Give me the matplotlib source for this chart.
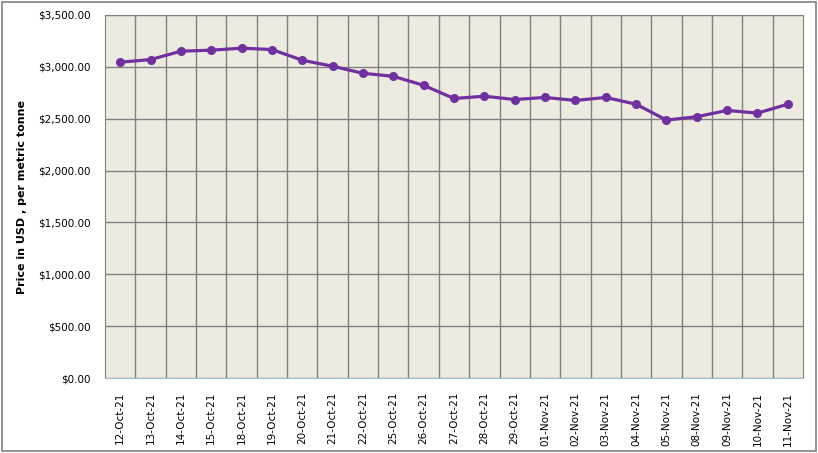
import matplotlib
matplotlib.use("Agg")
import matplotlib.pyplot as plt
from matplotlib.ticker import FuncFormatter
from matplotlib.patches import Rectangle

dates = ["12-Oct-21", "13-Oct-21", "14-Oct-21", "15-Oct-21", "18-Oct-21",
         "19-Oct-21", "20-Oct-21", "21-Oct-21", "22-Oct-21", "25-Oct-21",
         "26-Oct-21", "27-Oct-21", "28-Oct-21", "29-Oct-21", "01-Nov-21",
         "02-Nov-21", "03-Nov-21", "04-Nov-21", "05-Nov-21", "08-Nov-21",
         "09-Nov-21", "10-Nov-21", "11-Nov-21"]
prices = [3045, 3070, 3151, 3161, 3180, 3167, 3064, 3006, 2938, 2909,
          2822, 2695, 2717, 2685, 2705, 2676, 2705, 2640, 2487, 2519,
          2580, 2554, 2640]

fig = plt.figure(figsize=(8.18, 4.53), dpi=100)
ax = fig.add_axes([105 / 818, 1 - 378 / 453, 698 / 818, 363 / 453])
ax.set_facecolor("#EDEAE0")

x = list(range(len(dates)))
ax.plot(x, prices, color="#7030A0", lw=2.3, marker="o", ms=5.5, zorder=3)

ax.set_xlim(-0.5, len(dates) - 0.5)
ax.set_ylim(0, 3500)
ax.set_yticks(range(0, 3501, 500))
ax.yaxis.set_major_formatter(FuncFormatter(lambda v, p: "${:,.2f}".format(v)))
ax.set_xticks(x)
ax.set_xticklabels(dates, rotation=90)
ax.set_xticks([i + 0.5 for i in x[:-1]], minor=True)

# gridlines sit between categories, like excel
ax.grid(axis="y", which="major", color="#808080", lw=1.0)
ax.grid(axis="x", which="minor", color="#808080", lw=1.0)
ax.set_axisbelow(True)

ax.tick_params(axis="both", which="both", length=0, labelsize=7.5,
               colors="black")
ax.tick_params(axis="x", pad=10)
ax.tick_params(axis="y", pad=10)

for s in ["top", "right", "left"]:
    ax.spines[s].set_color("#808080")
ax.spines["bottom"].set_color("#A6C0E8")

ax.set_ylabel("Price in USD , per metric tonne", fontsize=8, fontweight="bold",
              labelpad=8)

# outer chart border
fig.patches.append(Rectangle((2 / 818, 2 / 453), 814 / 818, 449 / 453,
                             transform=fig.transFigure, fill=False,
                             edgecolor="#808080", lw=1.2))

fig.savefig("out.png", dpi=100)
